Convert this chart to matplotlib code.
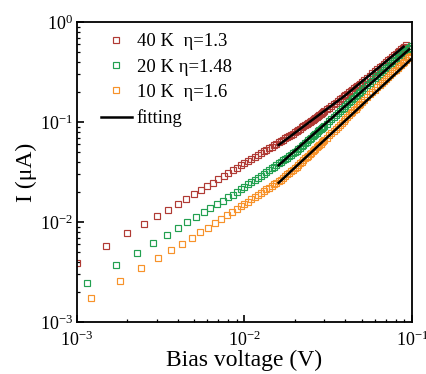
import matplotlib
matplotlib.use("Agg")
import matplotlib.pyplot as plt

plt.rcParams['font.family'] = ['Liberation Serif', 'DejaVu Serif']
plt.rcParams['mathtext.fontset'] = 'custom'
plt.rcParams['mathtext.rm'] = 'Liberation Serif'

# bias in mV, current in uA
v_40k = [1.0, 1.5, 2.0, 2.5, 3.0, 3.5, 4.0, 4.5, 5.0, 5.5, 6.0, 6.5, 7.0, 7.5, 8.0,
         8.5, 9, 9.5, 10, 10.5, 11, 11.5, 12, 12.5, 13, 13.5, 14, 14.5, 15, 15.5, 16,
         16.5, 17, 17.5, 18, 18.5, 19, 19.5, 20, 20.5, 21, 21.5, 22, 22.5, 23, 23.5, 24,
         24.5, 25, 25.5, 26, 26.5, 27, 27.5, 28, 28.5, 29, 29.5, 30,
         31, 32, 33, 34, 35, 36, 37, 38, 39, 40, 41, 42, 43, 44, 45, 46, 47, 48, 49, 50,
         52, 54, 56, 58, 60, 62, 64, 66, 68, 70, 72, 74, 76, 78, 80, 82, 84, 86, 88, 90, 92]
i_40k = [0.00386, 0.00575, 0.0077, 0.0096, 0.0115, 0.0133, 0.0152, 0.0171, 0.0190, 0.0209,
         0.0229, 0.0248, 0.0268, 0.0288, 0.0308,
         0.0328, 0.0348, 0.0368, 0.0388, 0.0408, 0.0428, 0.0448, 0.0468, 0.0488, 0.0508,
         0.0528, 0.0548, 0.0568, 0.0588, 0.0607, 0.0626,
         0.0645, 0.0665, 0.0685, 0.0706, 0.0727, 0.0747, 0.0768, 0.0788, 0.0812, 0.0836,
         0.0860, 0.0884, 0.0908, 0.0932, 0.0957, 0.0981, 0.1006, 0.1031, 0.1055, 0.1080,
         0.1105, 0.1130, 0.1155, 0.1181, 0.1206, 0.1232, 0.1257, 0.1283,
         0.1338, 0.1395, 0.1452, 0.1510, 0.1567, 0.1626, 0.1685, 0.1744, 0.1804, 0.1864,
         0.1925, 0.1987, 0.2048, 0.2110, 0.2173, 0.2236, 0.2299, 0.2363, 0.2427, 0.2491,
         0.2633, 0.2775, 0.2920, 0.3067, 0.3217, 0.3368, 0.3521, 0.3676, 0.3833, 0.3992,
         0.4152, 0.4314, 0.4478, 0.4644, 0.4812, 0.4981, 0.5151, 0.5323, 0.5497, 0.5673, 0.5850]

v_20k = [1.15, 1.72, 2.28, 2.85, 3.43, 4.0, 4.57, 5.14, 5.7, 6.27, 6.85, 7.4, 8.0,
         8.5, 9, 9.5, 10, 10.5, 11, 11.5, 12, 12.5, 13, 13.5, 14, 14.5, 15, 15.5, 16,
         16.5, 17, 17.5, 18, 18.5, 19, 19.5, 20, 20.5, 21, 21.5, 22, 22.5, 23, 23.5, 24,
         24.5, 25, 25.5, 26, 26.5, 27, 27.5, 28, 28.5, 29, 29.5, 30,
         31, 32, 33, 34, 35, 36, 37, 38, 39, 40, 41, 42, 43, 44, 45, 46, 47, 48, 49, 50,
         52, 54, 56, 58, 60, 62, 64, 66, 68, 70, 72, 74, 76, 78, 80, 82, 84, 86, 88, 90,
         92, 94, 96, 98]
i_20k = [0.00247, 0.00369, 0.00495, 0.00617, 0.00741, 0.00865, 0.00990, 0.0112, 0.0125,
         0.0138, 0.0151, 0.0163, 0.0177,
         0.0188, 0.0200, 0.0212, 0.0225, 0.0238, 0.0251, 0.0264, 0.0278, 0.0291, 0.0304,
         0.0318, 0.0331, 0.0345, 0.0359, 0.0372, 0.0386,
         0.0400, 0.0414, 0.0428, 0.0442, 0.0456, 0.0471, 0.0485, 0.0499, 0.0518, 0.0537,
         0.0556, 0.0576, 0.0596, 0.0616, 0.0636, 0.0656, 0.0677, 0.0698, 0.0719, 0.0740,
         0.0762, 0.0783, 0.0805, 0.0827, 0.0849, 0.0872, 0.0894, 0.0917,
         0.0967, 0.1017, 0.1068, 0.1121, 0.1174, 0.1228, 0.1283, 0.1339, 0.1396, 0.1453,
         0.1512, 0.1571, 0.1632, 0.1693, 0.1755, 0.1818, 0.1881, 0.1946, 0.2011, 0.2077,
         0.2203, 0.2332, 0.2462, 0.2595, 0.2731, 0.2869, 0.3009, 0.3151, 0.3295, 0.3441,
         0.3589, 0.3740, 0.3892, 0.4047, 0.4204, 0.4363, 0.4522, 0.4684, 0.4850, 0.5016,
         0.5185, 0.5355, 0.5527, 0.5701]

v_10k = [1.21, 1.82, 2.43, 3.04, 3.65, 4.25, 4.85, 5.45, 6.05, 6.65, 7.25, 7.85, 8.45,
         9, 9.5, 10, 10.5, 11, 11.5, 12, 12.5, 13, 13.5, 14, 14.5, 15, 15.5, 16,
         16.5, 17, 17.5, 18, 18.5, 19, 19.5, 20, 20.5, 21, 21.5, 22, 22.5, 23, 23.5, 24,
         24.5, 25, 25.5, 26, 26.5, 27, 27.5, 28, 28.5, 29, 29.5, 30,
         31, 32, 33, 34, 35, 36, 37, 38, 39, 40, 41, 42, 43, 44, 45, 46, 47, 48, 49, 50,
         52, 54, 56, 58, 60, 62, 64, 66, 68, 70, 72, 74, 76, 78, 80, 82, 84, 86, 88, 90,
         92, 94, 96, 98]
i_10k = [0.00174, 0.00259, 0.00344, 0.00433, 0.00521, 0.00607, 0.00697, 0.00788, 0.00878,
         0.00970, 0.0107, 0.0117, 0.0127,
         0.0136, 0.0144, 0.0152, 0.0160, 0.0169, 0.0177, 0.0186, 0.0195, 0.0203, 0.0212,
         0.0221, 0.0229, 0.0238, 0.0247, 0.0256,
         0.0266, 0.0277, 0.0288, 0.0300, 0.0311, 0.0322, 0.0334, 0.0345, 0.0359, 0.0373,
         0.0388, 0.0402, 0.0417, 0.0432, 0.0447, 0.0462, 0.0478, 0.0494, 0.0509, 0.0526,
         0.0542, 0.0558, 0.0575, 0.0592, 0.0609, 0.0626, 0.0643, 0.0661,
         0.0698, 0.0737, 0.0777, 0.0818, 0.0859, 0.0901, 0.0944, 0.0987, 0.1032, 0.1078,
         0.1123, 0.1171, 0.1218, 0.1267, 0.1316, 0.1366, 0.1417, 0.1469, 0.1521, 0.1574,
         0.1676, 0.1780, 0.1887, 0.1996, 0.2108, 0.2222, 0.2337, 0.2455, 0.2575, 0.2698,
         0.2822, 0.2948, 0.3076, 0.3207, 0.3340, 0.3474, 0.3611, 0.3750, 0.3889, 0.4031,
         0.4175, 0.4322, 0.4470, 0.4620]

# fitting lines
fit_v_40k = [16, 40, 89]
fit_i_40k = [0.059, 0.185, 0.566]
fit_v_20k = [16, 96]
fit_i_20k = [0.037, 0.533]
fit_v_10k = [16, 98.5]
fit_i_10k = [0.0247, 0.424]

labels = ['40 K  \u03b7=1.3', '20 K \u03b7=1.48', '10 K  \u03b7=1.6']
colors = ['#B03A34', '#22A050', '#F7922A']

fig = plt.figure(figsize=(4.27, 3.74), dpi=100)
ax = fig.add_axes([0.180, 0.139, 0.785, 0.802])

series = [(v_40k, i_40k), (v_20k, i_20k), (v_10k, i_10k)]
for (v, i), lab, c in zip(series, labels, colors):
    ax.plot([x * 1e-3 for x in v], i, linestyle='none', marker='s', markersize=4.0,
            markerfacecolor='none', markeredgecolor=c, markeredgewidth=0.85, label=lab)

fits = [(fit_v_40k, fit_i_40k), (fit_v_20k, fit_i_20k), (fit_v_10k, fit_i_10k)]
for k, (v, i) in enumerate(fits):
    ax.plot([x * 1e-3 for x in v], i, color='black', lw=1.8,
            label='fitting' if k == 0 else None)

ax.set_xscale('log')
ax.set_yscale('log')
ax.set_xlim(1e-3, 1e-1)
ax.set_ylim(1e-3, 1e0)

for s in ax.spines.values():
    s.set_linewidth(1.3)
ax.tick_params(which='both', direction='in', top=False, right=False, labelsize=13)
ax.tick_params(axis='x', which='major', pad=6)
ax.tick_params(axis='y', which='major', pad=3)
ax.tick_params(which='major', length=5, width=1.2)
ax.tick_params(which='minor', length=2.5, width=0.9)

ax.set_xlabel('Bias voltage (V)', fontsize=17, labelpad=0)
ax.set_ylabel('I (\u03bcA)', fontsize=17, labelpad=2)

ax.legend(loc='upper left', frameon=False, fontsize=13.5, handlelength=1.65,
          handletextpad=0.25, labelspacing=0.44, borderaxespad=0.4,
          bbox_to_anchor=(0.027, 1.013))

fig.savefig('out.png', dpi=100)
